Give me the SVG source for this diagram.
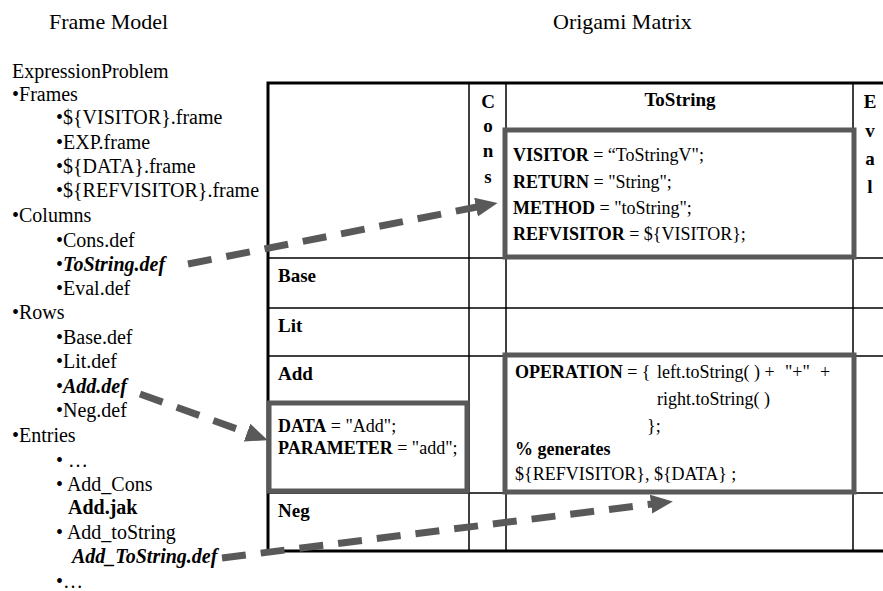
<svg xmlns="http://www.w3.org/2000/svg" width="883" height="591" viewBox="0 0 883 591">
<defs>
<style>
text{font-family:"Liberation Serif","Times New Roman",serif;fill:#000}
.title{font-size:22px}
.list{font-size:20px}
.lbl{font-size:19px;font-weight:bold}
.box{font-size:18px}
.b{font-weight:bold}
.bi{font-weight:bold;font-style:italic}
.thick{stroke:#000;stroke-width:3;fill:none}
.thin{stroke:#000;stroke-width:1.5;fill:none}
.gbox{fill:#fff;stroke:#595959;stroke-width:5}
.conn{stroke:#595959;stroke-width:7;fill:none;stroke-dasharray:24 15}
</style>
<marker id="ah" markerUnits="userSpaceOnUse" markerWidth="24" markerHeight="20" refX="1" refY="9.5" orient="auto">
<path d="M0,0 L22,9.5 L0,19 z" fill="#595959"/>
</marker>
</defs>
<rect width="883" height="591" fill="#fff"/>

<g id="titles">
<text class="title" x="49" y="29">Frame Model</text>
<text class="title" x="553" y="29">Origami Matrix</text>
</g>

<g id="frame-model" class="list">
<text class="list" x="12" y="78">ExpressionProblem</text>
<text class="list" x="12" y="101">•Frames</text>
<text class="list" x="56" y="124">•${VISITOR}.frame</text>
<text class="list" x="56" y="149">•EXP.frame</text>
<text class="list" x="56" y="173">•${DATA}.frame</text>
<text class="list" x="56" y="197">•${REFVISITOR}.frame</text>
<text class="list" x="12" y="222">•Columns</text>
<text class="list" x="56" y="247">•Cons.def</text>
<g id="tostring-def"><text class="list" x="56" y="271">•<tspan class="bi">ToString.def</tspan></text></g>
<text class="list" x="56" y="295">•Eval.def</text>
<text class="list" x="12" y="319">•Rows</text>
<text class="list" x="56" y="344">•Base.def</text>
<text class="list" x="56" y="368">•Lit.def</text>
<g id="add-def"><text class="list" x="56" y="393">•<tspan class="bi">Add.def</tspan></text></g>
<text class="list" x="56" y="417">•Neg.def</text>
<text class="list" x="12" y="442">•Entries</text>
<text class="list" x="56" y="467">• …</text>
<text class="list" x="56" y="491">• Add_Cons</text>
<text class="list b" x="68" y="514">Add.jak</text>
<text class="list" x="56" y="539">• Add_toString</text>
<g id="add-tostring-def"><text class="list bi" x="72" y="563">Add_ToString.def</text></g>
<text class="list" x="56" y="588">•…</text>
</g>

<g id="matrix">
<line class="thin" x1="469" y1="83" x2="469" y2="551"/>
<line class="thin" x1="506" y1="83" x2="506" y2="551"/>
<line class="thin" x1="853" y1="83" x2="853" y2="551"/>
<line class="thin" x1="268" y1="258" x2="883" y2="258"/>
<line class="thin" x1="268" y1="308" x2="883" y2="308"/>
<line class="thin" x1="268" y1="356" x2="883" y2="356"/>
<line class="thin" x1="268" y1="493" x2="883" y2="493"/>
<path class="thick" d="M883,83 H268 V551 H883"/>
<text class="lbl" x="680" y="106" text-anchor="middle">ToString</text>
<g class="lbl" text-anchor="middle">
<text class="lbl" x="488" y="108">C</text>
<text class="lbl" x="488" y="132">o</text>
<text class="lbl" x="488" y="157">n</text>
<text class="lbl" x="488" y="183">s</text>
<text class="lbl" x="870" y="108">E</text>
<text class="lbl" x="870" y="137">v</text>
<text class="lbl" x="870" y="165">a</text>
<text class="lbl" x="870" y="193">l</text>
</g>
<text class="lbl" x="278" y="282">Base</text>
<text class="lbl" x="278" y="332">Lit</text>
<text class="lbl" x="278" y="380">Add</text>
<text class="lbl" x="278" y="517">Neg</text>
</g>

<g id="tostring-box">
<rect class="gbox" x="505" y="130" width="349" height="127"/>
<text class="box" x="513" y="161"><tspan class="b">VISITOR</tspan> = “ToStringV";</text>
<text class="box" x="513" y="188"><tspan class="b">RETURN</tspan> = "String";</text>
<text class="box" x="513" y="214"><tspan class="b">METHOD</tspan> = "toString";</text>
<text class="box" x="513" y="240"><tspan class="b">REFVISITOR</tspan> = ${VISITOR};</text>
</g>

<g id="data-box">
<rect class="gbox" x="269" y="403" width="198" height="88"/>
<text class="box" x="278" y="432"><tspan class="b">DATA</tspan> = "Add";</text>
<text class="box" x="278" y="454"><tspan class="b">PARAMETER</tspan> = "add";</text>
</g>

<g id="operation-box">
<rect class="gbox" x="505" y="355" width="349" height="137"/>
<text class="box" x="515" y="378"><tspan class="b">OPERATION</tspan> = {<tspan x="657">left.toString( ) +</tspan><tspan x="785">"+"</tspan><tspan x="820">+</tspan></text>
<text class="box" x="657" y="405">right.toString( )</text>
<text class="box" x="647" y="432">};</text>
<text class="box b" x="515" y="455">% generates</text>
<text class="box" x="515" y="480">${REFVISITOR}, ${DATA} ;</text>
</g>

<g id="connectors">
<path class="conn" d="M188,264 L477,207" marker-end="url(#ah)"/>
<path class="conn" d="M140,394 L248,433" marker-end="url(#ah)"/>
<path class="conn" d="M222,558 L652,504" marker-end="url(#ah)"/>
</g>
</svg>
